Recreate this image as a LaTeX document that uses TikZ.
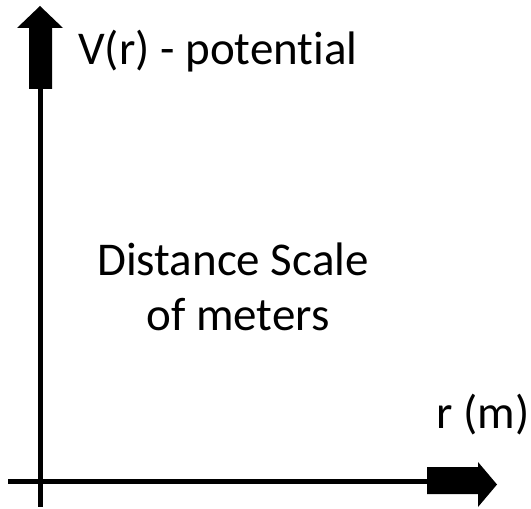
\documentclass[tikz,border=0pt]{standalone}
\usepackage{fontspec}
\setmainfont[Ligatures=NoCommon]{Carlito}
\begin{document}
\begin{tikzpicture}[x=1bp,y=-1bp,
  lbl/.style={inner sep=0pt,font=\fontsize{47bp}{56bp}\selectfont},
  axisline/.style={line width=5bp,line cap=butt}]
\useasboundingbox (0,0) rectangle (531,509);
% vertical axis
\coordinate (vtop) at (40.5,89);
\coordinate (vbot) at (40.5,507);
\draw[axisline] (vtop) -- (vbot);
\fill (40,6) -- (63,28) -- (52,28) -- (52,89) -- (29,89) -- (29,28) -- (17,28) -- cycle;
% horizontal axis
\coordinate (hleft) at (8,481.5);
\coordinate (hright) at (427,481.5);
\draw[axisline] (hleft) -- (hright);
\fill (427,467) -- (478,467) -- (478,462) -- (497,484.5) -- (478,507) -- (478,494) -- (427,494) -- cycle;
% labels
\node[lbl,anchor=base west] (vlab) at (78,65) {V(r) - potential};
\node[lbl,anchor=base] (d1) at (233,275) {Distance Scale};
\node[lbl,anchor=base] (d2) at (238,330) {of meters};
\node[lbl,anchor=base west] (rlab) at (436,428) {r (m)};
\end{tikzpicture}
\end{document}
